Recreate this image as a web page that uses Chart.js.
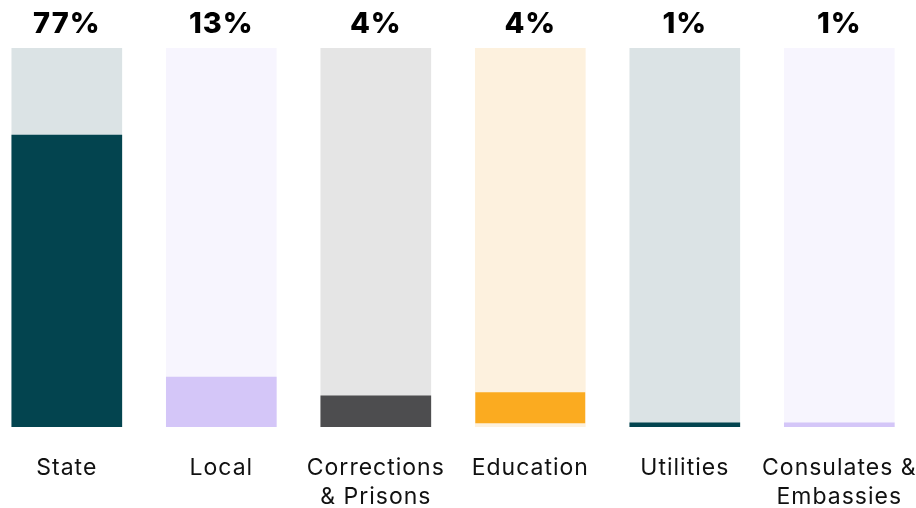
<!DOCTYPE html>
<html>
<head>
<meta charset="utf-8">
<script src="https://cdn.jsdelivr.net/npm/chart.js@4/dist/chart.umd.min.js"></script>
<style>
  html, body { margin: 0; padding: 0; background: #ffffff; }
  #wrap { width: 916px; height: 508px; position: relative; }
</style>
</head>
<body>
<div id="wrap"><canvas id="c"></canvas></div>
<script>
// ---- data ----
const categories = ['State', 'Local', ['Corrections', '& Prisons'], 'Education', 'Utilities', ['Consulates &', 'Embassies']];
const percentLabels = ['77%', '13%', '4%', '4%', '1%', '1%'];
const shareValues = [77, 13.2, 8.2, 9.2, 1.1, 1.1];
const fullValues = [100, 100, 100, 100, 100, 100];

// ---- styles ----
const fgColors = ['#03444f', '#d4c6f8', '#4d4d4f', '#fbab20', '#03444f', '#d4c6f8'];
const bgColors = ['#dbe3e5', '#f7f5fe', '#e5e5e5', '#fdf1de', '#dbe3e5', '#f7f5fe'];
const fgBorders = [0, 0, 0, 4, 0, 0];

const fgData = shareValues.map((v, i) => ({ x: i, y: v }));
const bgData = fullValues.map((v, i) => ({ x: i, y: v }));

function fitAxis(h) {
  return (s) => { s.height = h; s.paddingLeft = 0; s.paddingRight = 0; };
}

const spacingPlugin = {
  id: 'spacing',
  beforeDraw(chart) { chart.ctx.letterSpacing = '1px'; }
};

new Chart(document.getElementById('c'), {
  type: 'bar',
  plugins: [spacingPlugin],
  data: {
    datasets: [
      {
        data: fgData,
        backgroundColor: fgColors,
        borderColor: bgColors,
        borderWidth: fgBorders.map(b => ({ top: 0, left: 0, right: 0, bottom: b })),
        borderSkipped: false,
        barThickness: 110,
        grouped: false,
        xAxisID: 'x'
      },
      {
        data: bgData,
        backgroundColor: bgColors,
        borderWidth: 0,
        barThickness: 110,
        grouped: false,
        xAxisID: 'x'
      }
    ]
  },
  options: {
    responsive: true,
    maintainAspectRatio: false,
    animation: false,
    layout: { padding: 0 },
    plugins: { legend: { display: false }, tooltip: { enabled: false } },
    scales: {
      x: {
        type: 'linear',
        position: 'bottom',
        offset: false,
        min: -0.4324,
        max: 5.4964,
        grid: { display: false, drawTicks: false, offset: false },
        border: { display: false },
        afterFit: fitAxis(81),
        ticks: {
          stepSize: 1,
          includeBounds: false,
          autoSkip: false,
          maxRotation: 0,
          minRotation: 0,
          padding: 27,
          color: '#111111',
          font: { family: 'Inter', size: 23, weight: 400, lineHeight: '29px' },
          callback: (v) => (Number.isInteger(v) && categories[v] !== undefined) ? categories[v] : ''
        }
      },
      xTop: {
        type: 'linear',
        position: 'top',
        offset: false,
        min: -0.4324,
        max: 5.4964,
        grid: { display: false, drawTicks: false, offset: false },
        border: { display: false },
        afterFit: fitAxis(48),
        ticks: {
          stepSize: 1,
          includeBounds: false,
          autoSkip: false,
          maxRotation: 0,
          minRotation: 0,
          padding: 6,
          color: '#000000',
          font: { family: 'Inter', size: 29, weight: 800, lineHeight: 1.2 },
          callback: (v) => (Number.isInteger(v) && percentLabels[v] !== undefined) ? percentLabels[v] : ''
        }
      },
      y: {
        display: false,
        min: 0,
        max: 100
      }
    }
  }
});
</script>
</body>
</html>
